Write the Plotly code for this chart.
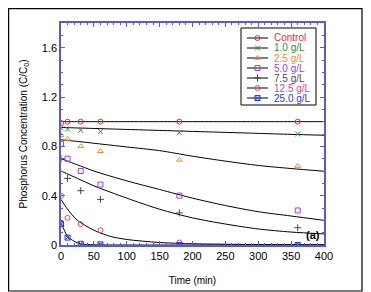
import plotly.graph_objects as go

t_data = [0, 10, 30, 60, 180, 360]
control = [0.99, 1.0, 1.0, 1.0, 1.0, 1.0]
g1_0 = [0.95, 0.94, 0.93, 0.92, 0.91, 0.90]
g2_5 = [0.89, 0.86, 0.80, 0.76, 0.69, 0.64]
g5_0 = [0.82, 0.70, 0.60, 0.49, 0.40, 0.28]
g7_5 = [0.70, 0.54, 0.44, 0.37, 0.26, 0.14]
g12_5 = [0.40, 0.22, 0.17, 0.12, 0.02, None]
g25_0 = [0.17, 0.06, 0.01, 0.005, 0.0, 0.0]

t_fit = [0, 25, 50, 100, 150, 200, 250, 300, 350, 400]
fit_control = [1.0, 1.0, 1.0, 1.0, 1.0, 1.0, 1.0, 1.0, 1.0, 1.0]
fit_1_0 = [0.953, 0.949, 0.945, 0.937, 0.929, 0.921, 0.913, 0.905, 0.897, 0.89]
fit_2_5 = [0.853, 0.84, 0.825, 0.795, 0.765, 0.72, 0.68, 0.645, 0.62, 0.598]
fit_5_0 = [0.70, 0.65, 0.60, 0.52, 0.45, 0.38, 0.32, 0.27, 0.235, 0.20]
fit_7_5 = [0.60, 0.54, 0.48, 0.38, 0.29, 0.22, 0.17, 0.13, 0.105, 0.09]
t_fit_12 = [0, 10, 25, 50, 75, 100, 150, 200, 300, 400]
fit_12_5 = [0.37, 0.29, 0.20, 0.12, 0.07, 0.045, 0.02, 0.01, 0.004, 0.002]
t_fit_25 = [0, 5, 10, 20, 30, 50, 100, 400]
fit_25_0 = [0.18, 0.12, 0.07, 0.03, 0.01, 0.002, 0.0, 0.0]

names = ["Control", "1.0 g/L", "2.5 g/L", "5.0 g/L", "7.5 g/L", "12.5 g/L", "25.0 g/L"]
colors = ["#e03030", "#2f8f3f", "#f08a30", "#a040e0", "#504545", "#f0407a", "#2a3ad8"]
symbols = ["circle-open", "x-thin-open", "triangle-up-open", "square-open", "cross-thin-open", "circle-open", "square-x-open"]
series = [control, g1_0, g2_5, g5_0, g7_5, g12_5, g25_0]
fits = [(t_fit, fit_control), (t_fit, fit_1_0), (t_fit, fit_2_5), (t_fit, fit_5_0),
        (t_fit, fit_7_5), (t_fit_12, fit_12_5), (t_fit_25, fit_25_0)]

# page has an 8px body margin; work in page pixels and convert
OFF = 8
W, H = 371 - OFF, 292 - OFF
L, R, T, B = 61 - OFF, 324 - OFF, 23 - OFF, 245 - OFF
pw, ph = R - L, B - T

def px_x(p):
    return (p - OFF - L) / pw

def px_y(p):
    return (B - (p - OFF)) / ph

fig = go.Figure()
for (tx, fy) in fits:
    fig.add_trace(go.Scatter(x=tx, y=fy, mode="lines", line=dict(color="black", width=1, shape="spline", smoothing=0.8),
                             showlegend=False, hoverinfo="skip"))
for n, c, s, y in zip(names, colors, symbols, series):
    fig.add_trace(go.Scatter(x=t_data, y=y, mode="markers", showlegend=False, name=n,
                             marker=dict(symbol=s, size=5, color=c, line=dict(color=c, width=1))))

# manual legend
leg_x0, leg_x1, leg_y0, leg_y1 = 241, 316, 28, 105
fig.add_shape(type="rect", xref="paper", yref="paper", x0=px_x(leg_x0), x1=px_x(leg_x1),
              y0=px_y(leg_y1), y1=px_y(leg_y0), line=dict(color="black", width=1), fillcolor="white", layer="below")
leg_rows = [38, 48, 58, 68, 78, 88, 98]
for n, c, s, ry in zip(names, colors, symbols, leg_rows):
    fig.add_shape(type="line", xref="paper", yref="paper", x0=px_x(247), x1=px_x(268),
                  y0=px_y(ry), y1=px_y(ry), line=dict(color="black", width=1), layer="below")
    fig.add_annotation(xref="paper", yref="paper", x=px_x(272), y=px_y(ry), text=n, showarrow=False,
                       xanchor="left", yanchor="middle", font=dict(size=10, color=c))
fig.add_trace(go.Scatter(x=[px_x(257.5)] * 7, y=[px_y(r) for r in leg_rows], mode="markers",
                         xaxis="x2", yaxis="y2", showlegend=False, hoverinfo="skip",
                         marker=dict(symbol=symbols, size=5, color=colors, line=dict(color=colors, width=1))))

axis_col = "#5a5ad0"
fig.update_layout(
    width=W, height=H,
    margin=dict(l=L, r=W - R, t=T, b=H - B),
    paper_bgcolor="white", plot_bgcolor="rgba(0,0,0,0)",
    font=dict(family="Liberation Sans, Arial", size=11, color="black"),
    showlegend=False,
    xaxis2=dict(overlaying="x", range=[0, 1], visible=False, fixedrange=True),
    yaxis2=dict(overlaying="y", range=[0, 1], visible=False, fixedrange=True),
)
fig.layout.xaxis.update(range=[0, 400], tick0=0, dtick=50, ticks="inside", ticklen=4, tickcolor=axis_col,
                        showline=True, linecolor=axis_col, linewidth=1.5, mirror="ticks", showgrid=False, zeroline=False,
                        automargin=False,
                        minor=dict(dtick=10, ticks="inside", ticklen=2, tickcolor=axis_col),
                        title=dict(text="Time (min)", font=dict(size=10), standoff=16))
fig.layout.yaxis.update(range=[0, 1.8], tick0=0, dtick=0.4, ticks="inside", ticklen=4, tickcolor=axis_col,
                        showline=True, linecolor=axis_col, linewidth=1.5, mirror="ticks", showgrid=False, zeroline=False,
                        automargin=False,
                        minor=dict(tick0=0, dtick=0.1, ticks="inside", ticklen=2, tickcolor=axis_col),
                        title=dict(text="Phosphorus Concentration (C/C<sub>0</sub>)", font=dict(size=10), standoff=12))
fig.add_annotation(x=383, y=0.08, text="<b>(a)</b>", showarrow=False, font=dict(size=11, color="black"))
fig.add_shape(type="rect", xref="paper", yref="paper",
              x0=px_x(8.6), x1=px_x(362), y0=px_y(291), y1=px_y(8.6),
              line=dict(color="black", width=1.2), layer="below")
fig.write_html("out.html")
